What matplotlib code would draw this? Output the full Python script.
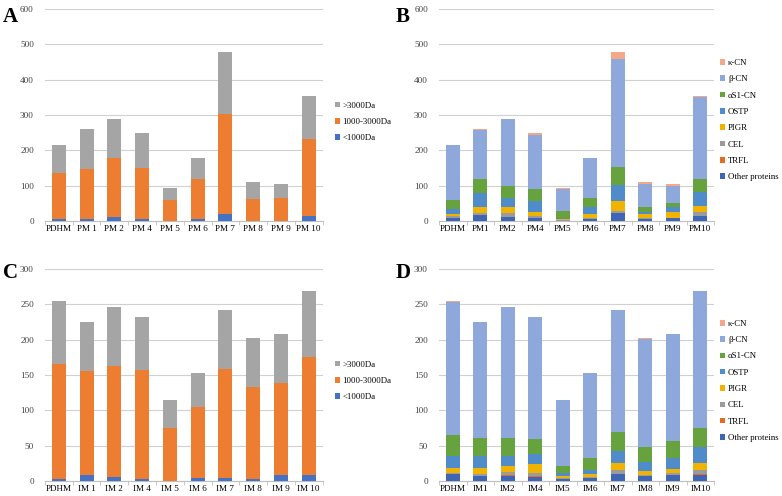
import numpy as np
import matplotlib
matplotlib.use('Agg')
import matplotlib.pyplot as plt

plt.rcParams['font.family'] = ['Liberation Serif', 'DejaVu Serif']

# Panel A / B : PM samples
pm_labels_a = ['PDHM', 'PM 1', 'PM 2', 'PM 4', 'PM 5', 'PM 6', 'PM 7', 'PM 8', 'PM 9', 'PM 10']
pm_labels_b = ['PDHM', 'PM1', 'PM2', 'PM4', 'PM5', 'PM6', 'PM7', 'PM8', 'PM9', 'PM10']
pm_lt1000 = [6, 7, 11, 6, 2, 6, 20, 2, 2, 14]
pm_1000_3000 = [129, 140, 168, 143, 58, 113, 284, 61, 63, 218]
pm_gt3000 = [79, 113, 111, 101, 33, 60, 173, 48, 40, 123]

pm_other = [10, 17, 11, 10, 2, 7, 22, 6, 8, 14]
pm_trfl = [0, 0, 0, 0, 0, 0, 0, 0, 0, 0]
pm_cel = [5, 5, 13, 6, 2, 3, 8, 3, 2, 13]
pm_pigr = [5, 18, 16, 9, 3, 10, 27, 12, 17, 16]
pm_ostp = [14, 40, 25, 32, 3, 20, 45, 5, 12, 40]
pm_as1 = [25, 38, 35, 33, 19, 25, 51, 15, 13, 35]
pm_beta = [155, 140, 188, 153, 63, 114, 306, 65, 48, 232]
pm_kappa = [1, 2, 2, 7, 1, 0, 18, 5, 5, 5]

# Panel C / D : IM samples
im_labels_c = ['PDHM', 'IM 1', 'IM 2', 'IM 4', 'IM 5', 'IM 6', 'IM 7', 'IM 8', 'IM 9', 'IM 10']
im_labels_d = ['PDHM', 'IM1', 'IM2', 'IM4', 'IM5', 'IM6', 'IM7', 'IM8', 'IM9', 'IM10']
im_lt1000 = [3, 8.5, 6, 3, 0.5, 5, 5, 3, 8.5, 8.5]
im_1000_3000 = [162, 146.5, 157, 154, 74.5, 100, 153, 130, 129.5, 166.5]
im_gt3000 = [89, 70, 83, 75, 40, 48, 84, 69, 70, 94]

im_other = [10, 7, 7, 6, 3, 5, 10, 7, 8.5, 8.5]
im_trfl = [0, 0, 1, 1, 0, 0, 0, 0, 0, 1.5]
im_cel = [1, 3, 5, 5, 2, 1, 6, 1.5, 3.5, 6]
im_pigr = [8, 8, 8, 12, 2, 4, 10, 5.5, 5, 10]
im_ostp = [17, 17, 14, 14, 5, 6, 16, 13, 16, 22]
im_as1 = [29, 26, 26, 21, 9, 16, 27, 21, 23, 27]
im_beta = [188, 164, 185, 173, 94, 121, 173, 153, 152, 193]
im_kappa = [1, 0, 0, 0, 0, 0, 0, 1, 0, 1]

size_names = ['<1000Da', '1000-3000Da', '>3000Da']
size_colors = ['#4472C4', '#ED7D31', '#A5A5A5']
prot_names = ['Other proteins', 'TRFL', 'CEL', 'PIGR', 'OSTP', '\u03b1S1-CN', '\u03b2-CN', '\u03ba-CN']
prot_colors = ['#3F66B5', '#E36C1E', '#9B9B9B', '#F0B400', '#4F8CC9', '#66A33F', '#8FA8DB', '#F4A889']


def stacked(ax, labels, series, names, colors, ymax, ystep):
    x = np.arange(len(labels))
    bottom = np.zeros(len(labels))
    handles = []
    for vals, name, col in zip(series, names, colors):
        vals = np.array(vals, dtype=float)
        h = ax.bar(x, vals, 0.5, bottom=bottom, color=col, label=name, zorder=3)
        handles.append(h)
        bottom += vals
    ax.set_xlim(-0.5, len(labels) - 0.5)
    ax.set_ylim(0, ymax)
    ax.set_yticks(np.arange(0, ymax + 1, ystep))
    ax.set_xticks(x)
    ax.set_xticklabels(labels, fontsize=6.6)
    ax.tick_params(axis='y', labelsize=6.6, length=0, pad=8, colors='#404040')
    ax.tick_params(axis='x', length=0, pad=3, colors='#000000')
    ax.set_xticks(np.arange(-0.5, len(labels), 1), minor=True)
    ax.tick_params(axis='x', which='minor', length=3, color='#BFBFBF')
    ax.grid(axis='y', color='#D0D0D0', linewidth=0.8, zorder=0)
    for s in ['top', 'right', 'left']:
        ax.spines[s].set_visible(False)
    ax.spines['bottom'].set_color('#BFBFBF')
    ax.spines['bottom'].set_linewidth(0.8)
    return handles


def add_legend(ax, handles, names, x, y):
    ax.legend(handles[::-1], names[::-1], loc='center left', bbox_to_anchor=(x, y),
              bbox_transform=fig.transFigure, frameon=False, fontsize=6.3,
              borderpad=0, borderaxespad=0,
              handlelength=0.6, handleheight=0.6, handletextpad=0.3, labelspacing=0.95)


fig = plt.figure(figsize=(7.82, 4.96), dpi=100)

axA = fig.add_axes([0.0575, 0.554, 0.355, 0.428])
hA = stacked(axA, pm_labels_a, [pm_lt1000, pm_1000_3000, pm_gt3000], size_names, size_colors, 600, 100)
add_legend(axA, hA, size_names, 0.428, 0.754)

axB = fig.add_axes([0.5614, 0.554, 0.3517, 0.428])
hB = stacked(axB, pm_labels_b, [pm_other, pm_trfl, pm_cel, pm_pigr, pm_ostp, pm_as1, pm_beta, pm_kappa],
             prot_names, prot_colors, 600, 100)
add_legend(axB, hB, prot_names, 0.921, 0.758)

axC = fig.add_axes([0.0575, 0.030, 0.355, 0.428])
hC = stacked(axC, im_labels_c, [im_lt1000, im_1000_3000, im_gt3000], size_names, size_colors, 300, 50)
add_legend(axC, hC, size_names, 0.428, 0.232)

axD = fig.add_axes([0.5614, 0.030, 0.3517, 0.428])
hD = stacked(axD, im_labels_d, [im_other, im_trfl, im_cel, im_pigr, im_ostp, im_as1, im_beta, im_kappa],
             prot_names, prot_colors, 300, 50)
add_legend(axD, hD, prot_names, 0.921, 0.232)

for lab, xx, yy in [('A', 0.004, 0.985), ('B', 0.506, 0.985), ('C', 0.004, 0.47), ('D', 0.506, 0.47)]:
    fig.text(xx, yy, lab, fontsize=15, fontweight='bold', va='top', ha='left')

fig.savefig('out.png', dpi=100)
